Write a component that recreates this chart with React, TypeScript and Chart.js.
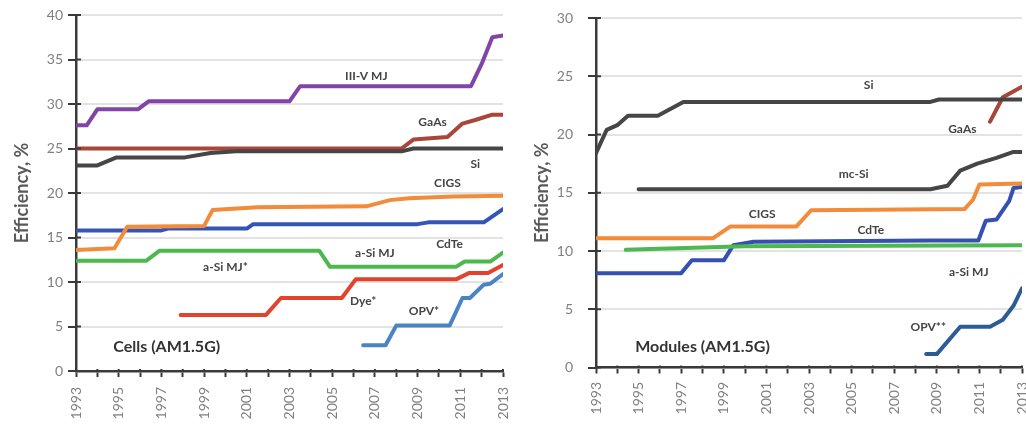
import { useEffect, useRef } from 'react';
import { Chart, registerables } from 'chart.js';

Chart.register(...registerables);

// ---------------- Cells (left) ----------------
const cellIIIVYears = [1993, 1993.5, 1994, 1995.9, 1996.4, 2003.0, 2003.5, 2011.5, 2012.0, 2012.5, 2013];
const cellIIIVValues = [27.6, 27.6, 29.4, 29.4, 30.3, 30.3, 32.0, 32.0, 34.5, 37.5, 37.7];

const cellSiYears = [1993, 1994, 1994.9, 1998.1, 1999.3, 2000.5, 2008.3, 2008.8, 2013];
const cellSiValues = [23.1, 23.1, 24.0, 24.0, 24.5, 24.7, 24.7, 25.0, 25.0];

const cellGaAsYears = [1993, 2008.25, 2008.8, 2010.4, 2011.1, 2011.7, 2012.5, 2013];
const cellGaAsValues = [25.0, 25.0, 26.0, 26.3, 27.8, 28.2, 28.8, 28.8];

const cellCIGSYears = [1993, 1994.8, 1995.4, 1999.0, 1999.4, 2001.5, 2006.6, 2007.7, 2008.6, 2010.7, 2013];
const cellCIGSValues = [13.6, 13.8, 16.2, 16.3, 18.1, 18.4, 18.5, 19.2, 19.4, 19.6, 19.7];

const cellCdTeYears = [1993, 1997, 1997.3, 2001, 2001.3, 2009, 2009.5, 2012.1, 2013];
const cellCdTeValues = [15.8, 15.8, 16.0, 16.0, 16.5, 16.5, 16.7, 16.7, 18.2];

const cellASiYears = [1993, 1996.3, 1996.9, 2004.4, 2004.9, 2010.8, 2011.2, 2012.4, 2013];
const cellASiValues = [12.4, 12.4, 13.5, 13.5, 11.7, 11.7, 12.3, 12.3, 13.3];

const cellDyeYears = [1997.9, 2001.9, 2002.6, 2005.45, 2006.1, 2010.8, 2011.4, 2012.3, 2013];
const cellDyeValues = [6.3, 6.3, 8.2, 8.2, 10.3, 10.3, 11.0, 11.0, 11.9];

const cellOPVYears = [2006.45, 2007.5, 2008.0, 2010.5, 2011.1, 2011.45, 2012.1, 2012.4, 2013];
const cellOPVValues = [2.9, 2.9, 5.1, 5.1, 8.2, 8.2, 9.7, 9.8, 10.9];

const cellLabelTexts = ['III-V MJ', 'GaAs', 'Si', 'CIGS', 'CdTe', 'a-Si MJ', 'a-Si MJ*', 'Dye*', 'OPV*'];
const cellLabelYears = [2006.6, 2009.7, 2011.7, 2010.4, 2010.5, 2007.0, 2000.0, 2006.45, 2009.3];
const cellLabelValues = [33.1, 28.0, 23.3, 21.1, 14.2, 13.2, 11.7, 7.8, 6.7];
const cellTitle = 'Cells (AM1.5G)';
const cellTitleYear = 1997.25;
const cellTitleValue = 2.7;

// ---------------- Modules (right) ----------------
const modSiYears = [1993, 1993.5, 1994.0, 1994.5, 1995.9, 1997.1, 2008.7, 2009.1, 2013];
const modSiValues = [18.4, 20.4, 20.8, 21.6, 21.6, 22.8, 22.8, 23.0, 23.0];

const modGaAsYears = [2011.5, 2012.1, 2012.4, 2013];
const modGaAsValues = [21.1, 23.2, 23.5, 24.1];

const modMcSiYears = [1995.0, 2008.7, 2009.5, 2010.1, 2010.9, 2011.8, 2012.6, 2013];
const modMcSiValues = [15.3, 15.3, 15.6, 16.9, 17.5, 18.0, 18.5, 18.5];

const modCIGSYears = [1993, 1998.5, 1999.3, 2002.4, 2003.1, 2010.3, 2010.7, 2011.0, 2013];
const modCIGSValues = [11.1, 11.1, 12.1, 12.1, 13.5, 13.6, 14.4, 15.7, 15.8];

const modCdTeYears = [1993, 1997.0, 1997.5, 1999.0, 1999.45, 2000.4, 2008.7, 2010.95, 2011.3, 2011.8, 2012.4, 2012.6, 2013];
const modCdTeValues = [8.1, 8.1, 9.2, 9.2, 10.5, 10.8, 10.9, 10.9, 12.6, 12.7, 14.3, 15.4, 15.5];

const modASiYears = [1994.4, 2000, 2013];
const modASiValues = [10.1, 10.4, 10.5];

const modOPVYears = [2008.5, 2009.0, 2010.1, 2011.5, 2012.1, 2012.6, 2013];
const modOPVValues = [1.15, 1.15, 3.5, 3.5, 4.1, 5.3, 6.8];

const modLabelTexts = ['Si', 'GaAs', 'mc-Si', 'CIGS', 'CdTe', 'a-Si MJ', 'OPV**'];
const modLabelYears = [2005.8, 2010.2, 2005.1, 2000.8, 2005.9, 2010.5, 2008.6];
const modLabelValues = [24.2, 20.5, 16.6, 13.2, 11.8, 8.2, 3.5];
const modTitle = 'Modules (AM1.5G)';
const modTitleYear = 1998.0;
const modTitleValue = 1.8;

const yearMin = 1993;
const yearMax = 2013;
const axisTitle = 'Efficiency, %';

const FONT = "Lato, 'Open Sans', 'DejaVu Sans', sans-serif";

function pts(years: number[], values: number[]) {
  return years.map((x, i) => ({ x, y: values[i] }));
}

function line(label: string, years: number[], values: number[], color: string, width = 4) {
  return {
    label,
    data: pts(years, values),
    borderColor: color,
    backgroundColor: color,
    borderWidth: width,
    pointRadius: 0,
    tension: 0,
    borderJoinStyle: 'round' as const,
    borderCapStyle: 'round' as const,
    fill: false,
  };
}

const textLabelPlugin = {
  id: 'textLabels',
  afterDatasetsDraw(chart: any, _args: any, opts: any) {
    const { ctx, scales } = chart;
    ctx.save();
    ctx.textAlign = 'center';
    ctx.textBaseline = 'middle';
    (opts.items || []).forEach((it: any) => {
      ctx.font = it.font;
      ctx.fillStyle = it.color;
      ctx.fillText(it.text, scales.x.getPixelForValue(it.x), scales.y.getPixelForValue(it.y));
    });
    ctx.restore();
  },
};

const innerTickPlugin = {
  id: 'innerTicks',
  afterDraw(chart: any) {
    const { ctx, scales, chartArea } = chart;
    ctx.save();
    ctx.strokeStyle = '#3a3a3a';
    ctx.lineWidth = 2;
    scales.y.ticks.forEach((t: any) => {
      const py = scales.y.getPixelForValue(t.value);
      ctx.beginPath();
      ctx.moveTo(chartArea.left, py);
      ctx.lineTo(chartArea.left + 5, py);
      ctx.stroke();
    });
    scales.x.ticks.forEach((t: any) => {
      const px = scales.x.getPixelForValue(t.value);
      ctx.beginPath();
      ctx.moveTo(px, chartArea.bottom);
      ctx.lineTo(px, chartArea.bottom - 2);
      ctx.stroke();
    });
    ctx.restore();
  },
};

function makeConfig(p: {
  datasets: any[];
  yMax: number;
  padTop: number;
  padRight: number;
  yWidth: number;
  xHeight: number;
  titlePad: number;
  yTickPad: number;
  xTickPad: number;
  labels: any[];
}) {
  return {
    type: 'line' as const,
    data: { datasets: p.datasets },
    plugins: [textLabelPlugin, innerTickPlugin],
    options: {
      animation: false as const,
      responsive: false,
      maintainAspectRatio: false,
      layout: { padding: { left: 0, top: p.padTop, right: p.padRight, bottom: 0 } },
      plugins: {
        legend: { display: false },
        tooltip: { enabled: false },
        textLabels: { items: p.labels },
      },
      scales: {
        x: {
          type: 'linear' as const,
          min: yearMin,
          max: yearMax,
          afterFit(scale: any) {
            scale.height = p.xHeight;
            scale.paddingLeft = 0;
            scale.paddingRight = 0;
          },
          ticks: {
            stepSize: 1,
            autoSkip: false,
            maxRotation: 90,
            minRotation: 90,
            padding: p.xTickPad,
            color: '#808080',
            font: { family: FONT, size: 14 },
            callback: (v: any) => (Number(v) % 2 === 1 ? String(v) : ''),
          },
          grid: {
            drawOnChartArea: false,
            drawTicks: true,
            tickLength: 6,
            tickColor: '#3a3a3a',
            tickWidth: 2,
          },
          border: { display: true, color: '#3a3a3a', width: 2.5 },
        },
        y: {
          type: 'linear' as const,
          min: 0,
          max: p.yMax,
          afterFit(scale: any) {
            scale.width = p.yWidth;
            scale.paddingTop = 0;
            scale.paddingBottom = 0;
          },
          ticks: {
            stepSize: 5,
            padding: p.yTickPad,
            color: '#808080',
            font: { family: FONT, size: 14 },
          },
          grid: {
            color: '#e3e3e3',
            lineWidth: 2,
            drawTicks: true,
            tickLength: 8,
            tickColor: '#3a3a3a',
            tickWidth: 2,
          },
          border: { display: true, color: '#3a3a3a', width: 2.5 },
          title: {
            display: true,
            text: axisTitle,
            color: '#5a5a5a',
            font: { family: FONT, size: 18, weight: 'bold' as const },
            padding: { top: p.titlePad, bottom: 0 },
          },
        },
      },
    },
  };
}

function labelItems(texts: string[], years: number[], values: number[], title: string, ty: number, tv: number) {
  const items = texts.map((t, i) => ({
    text: t,
    x: years[i],
    y: values[i],
    font: `bold 12px ${FONT}`,
    color: '#444444',
  }));
  items.push({ text: title, x: ty, y: tv, font: `bold 16px ${FONT}`, color: '#333333' });
  return items;
}

export default function App() {
  const leftRef = useRef<HTMLCanvasElement>(null);
  const rightRef = useRef<HTMLCanvasElement>(null);

  useEffect(() => {
    document.body.style.margin = '0';
    const left = new Chart(
      leftRef.current as HTMLCanvasElement,
      makeConfig({
        datasets: [
          line('III-V MJ', cellIIIVYears, cellIIIVValues, '#8244a6'),
          line('Si', cellSiYears, cellSiValues, '#464646'),
          line('GaAs', cellGaAsYears, cellGaAsValues, '#a8463a'),
          line('CIGS', cellCIGSYears, cellCIGSValues, '#f28b3a'),
          line('CdTe', cellCdTeYears, cellCdTeValues, '#3554b4'),
          line('a-Si MJ', cellASiYears, cellASiValues, '#4db84f'),
          line('Dye', cellDyeYears, cellDyeValues, '#e2432d'),
          line('OPV', cellOPVYears, cellOPVValues, '#4b83c3'),
        ],
        yMax: 40,
        padTop: 15,
        padRight: 10,
        yWidth: 76,
        xHeight: 54,
        titlePad: 11,
        yTickPad: 5,
        xTickPad: 10,
        labels: labelItems(cellLabelTexts, cellLabelYears, cellLabelValues, cellTitle, cellTitleYear, cellTitleValue),
      }) as any
    );
    const right = new Chart(
      rightRef.current as HTMLCanvasElement,
      makeConfig({
        datasets: [
          line('Si', modSiYears, modSiValues, '#464646'),
          line('GaAs', modGaAsYears, modGaAsValues, '#a8463a'),
          line('mc-Si', modMcSiYears, modMcSiValues, '#464646'),
          line('CIGS', modCIGSYears, modCIGSValues, '#f28b3a'),
          line('a-Si MJ', modASiYears, modASiValues, '#4db84f'),
          line('CdTe', modCdTeYears, modCdTeValues, '#3550b0'),
          line('OPV**', modOPVYears, modOPVValues, '#2c5c96'),
        ],
        yMax: 30,
        padTop: 18,
        padRight: 4,
        yWidth: 83,
        xHeight: 57.5,
        titlePad: 18,
        yTickPad: 15,
        xTickPad: 8.5,
        labels: labelItems(modLabelTexts, modLabelYears, modLabelValues, modTitle, modTitleYear, modTitleValue),
      }) as any
    );
    return () => {
      left.destroy();
      right.destroy();
    };
  }, []);

  return (
    <div style={{ position: 'fixed', left: 0, top: 0, width: 1026, height: 425, background: '#ffffff' }}>
      <canvas ref={leftRef} width={513} height={425} style={{ position: 'absolute', left: 0, top: 0, width: 513, height: 425 }} />
      <canvas ref={rightRef} width={513} height={425} style={{ position: 'absolute', left: 513, top: 0, width: 513, height: 425 }} />
    </div>
  );
}
